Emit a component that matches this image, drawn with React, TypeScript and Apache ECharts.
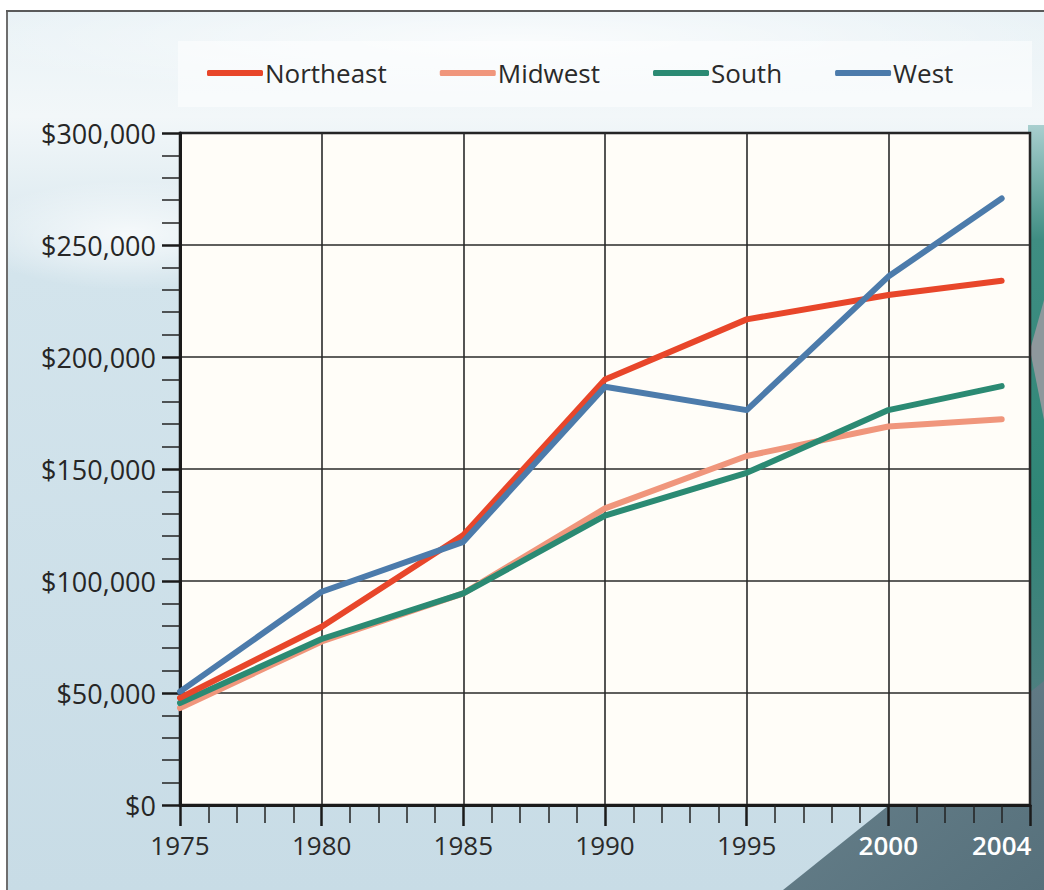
import React, { useEffect, useRef } from "react";
import * as echarts from "echarts";

const years = [1975, 1980, 1985, 1990, 1995, 2000, 2004];
const northeast = [47800, 79600, 120500, 190000, 216800, 227700, 234000];
const midwest = [43300, 73000, 94500, 132400, 155800, 169000, 172200];
const south = [45500, 74100, 94500, 129200, 148300, 176300, 187000];
const west = [50600, 95200, 117500, 186700, 176300, 235900, 270800];
const xLabelYears = [1975, 1980, 1985, 1990, 1995, 2000, 2004];
const whiteLabelYears = [2000, 2004];
const legendNames = ["Northeast", "Midwest", "South", "West"];

const COLORS: Record<string, string> = {
  Northeast: "#e8462a",
  Midwest: "#f0967c",
  South: "#2b8a73",
  West: "#4c7bab",
};

const FONT = "'Open Sans', 'Liberation Sans', sans-serif";

function pairs(vals: number[]) {
  return years.map((y, i) => [y, vals[i]]);
}

export default function App() {
  const ref = useRef<HTMLDivElement>(null);
  useEffect(() => {
    if (!ref.current) return;
    const chart = echarts.init(ref.current, null, { renderer: "svg" });
    const seriesList = [
      { name: "Midwest", vals: midwest },
      { name: "South", vals: south },
      { name: "Northeast", vals: northeast },
      { name: "West", vals: west },
    ];
    chart.setOption({
      animation: false,
      backgroundColor: "#ffffff",
      graphic: [
        {
          type: "rect",
          z: -10,
          shape: { x: 7, y: 11, width: 1037, height: 879 },
          style: {
            fill: {
              type: "linear", x: 0, y: 0, x2: 0, y2: 1,
              colorStops: [
                { offset: 0, color: "#e9f2f6" },
                { offset: 0.12, color: "#f2f7f9" },
                { offset: 0.3, color: "#d3e4ec" },
                { offset: 1, color: "#c8dce6" },
              ],
            },
          },
        },
        {
          type: "ellipse",
          z: -9,
          shape: { cx: 130, cy: 235, rx: 160, ry: 55 },
          style: {
            fill: {
              type: "radial", x: 0.5, y: 0.5, r: 0.5,
              colorStops: [
                { offset: 0, color: "rgba(255,255,255,0.75)" },
                { offset: 1, color: "rgba(255,255,255,0)" },
              ],
            },
          },
        },
        {
          type: "ellipse",
          z: -9,
          shape: { cx: 520, cy: 40, rx: 560, ry: 60 },
          style: {
            fill: {
              type: "radial", x: 0.5, y: 0.5, r: 0.5,
              colorStops: [
                { offset: 0, color: "rgba(255,255,255,0.7)" },
                { offset: 1, color: "rgba(255,255,255,0)" },
              ],
            },
          },
        },
        {
          type: "rect",
          z: -8,
          shape: { x: 1028, y: 125, width: 16, height: 765 },
          style: {
            fill: {
              type: "linear", x: 0, y: 0, x2: 0, y2: 1,
              colorStops: [
                { offset: 0, color: "#a9cfcf" },
                { offset: 0.15, color: "#3f8d82" },
                { offset: 0.5, color: "#2f8676" },
                { offset: 0.75, color: "#4e7f80" },
                { offset: 1, color: "#6f8690" },
              ],
            },
          },
        },
        {
          type: "polygon",
          z: -7,
          shape: { points: [[1030, 350], [1044, 300], [1044, 420]] },
          style: { fill: "#8e989c" },
        },
        {
          type: "polygon",
          z: -7,
          shape: { points: [[783, 890], [1044, 681], [1044, 890]] },
          style: {
            fill: {
              type: "linear", x: 0, y: 0, x2: 1, y2: 1,
              colorStops: [
                { offset: 0, color: "#6a838e" },
                { offset: 1, color: "#56707b" },
              ],
            },
          },
        },
        {
          type: "line",
          z: -6,
          shape: { x1: 7, y1: 11, x2: 7, y2: 890 },
          style: { stroke: "#6e6e6e", lineWidth: 2 },
        },
        {
          type: "line",
          z: -6,
          shape: { x1: 6, y1: 11, x2: 1044, y2: 11 },
          style: { stroke: "#5a5a5a", lineWidth: 2 },
        },
        {
          type: "rect",
          z: -5,
          shape: { x: 178, y: 41, width: 854, height: 66 },
          style: { fill: "rgba(255,255,255,0.5)" },
        },
      ],
      legend: {
        data: legendNames,
        left: 207,
        top: 60,
        padding: 0,
        itemWidth: 56,
        itemHeight: 6,
        itemGap: 53,
        icon: "roundRect",
        textStyle: { fontSize: 26, color: "#2a2a2a", fontFamily: FONT, padding: [0, 0, 0, -3] },
      },
      grid: {
        left: 180,
        top: 133,
        right: 14,
        bottom: 85,
        show: true,
        backgroundColor: "#fffdf8",
        borderColor: "#1a1a1a",
        borderWidth: 2.5,
      },
      xAxis: {
        type: "value",
        min: 1975,
        max: 2005,
        interval: 5,
        axisLine: { show: true, onZero: false, lineStyle: { color: "#1a1a1a", width: 3 } },
        axisTick: { show: true, length: 21, lineStyle: { color: "#1a1a1a", width: 2.5 } },
        minorTick: { show: true, splitNumber: 5, length: 18, lineStyle: { color: "#222", width: 1.5 } },
        splitLine: { show: true, lineStyle: { color: "#2a2a2a", width: 1.6 } },
        axisLabel: {
          customValues: xLabelYears,
          margin: 27,
          fontSize: 26,
          fontFamily: FONT,
          color: "#2a2a2a",
          formatter: (v: number) =>
            whiteLabelYears.includes(v) ? `{w|${v}}` : `{d|${v}}`,
          rich: {
            w: { color: "#ffffff", fontSize: 26, fontFamily: FONT, fontWeight: 600 },
            d: { color: "#2a2a2a", fontSize: 26, fontFamily: FONT },
          },
        },
      },
      yAxis: {
        type: "value",
        min: 0,
        max: 300000,
        interval: 50000,
        axisLine: { show: true, onZero: false, lineStyle: { color: "#1a1a1a", width: 3 } },
        axisTick: { show: true, length: 18, lineStyle: { color: "#1a1a1a", width: 2.5 } },
        minorTick: { show: true, splitNumber: 5, length: 18, lineStyle: { color: "#222", width: 1.5 } },
        splitLine: { show: true, lineStyle: { color: "#2a2a2a", width: 1.6 } },
        axisLabel: {
          margin: 24,
          fontSize: 27,
          fontFamily: FONT,
          color: "#262626",
          formatter: (v: number) => "$" + v.toLocaleString("en-US"),
        },
      },
      series: seriesList.map((s) => ({
        name: s.name,
        type: "line",
        data: pairs(s.vals),
        symbol: "none",
        color: COLORS[s.name],
        lineStyle: { width: 6, color: COLORS[s.name], cap: "round", join: "round" },
      })),
    });
    return () => chart.dispose();
  }, []);
  return (
    <div
      ref={ref}
      style={{ position: "absolute", left: 0, top: 0, width: 1044, height: 890 }}
    />
  );
}
